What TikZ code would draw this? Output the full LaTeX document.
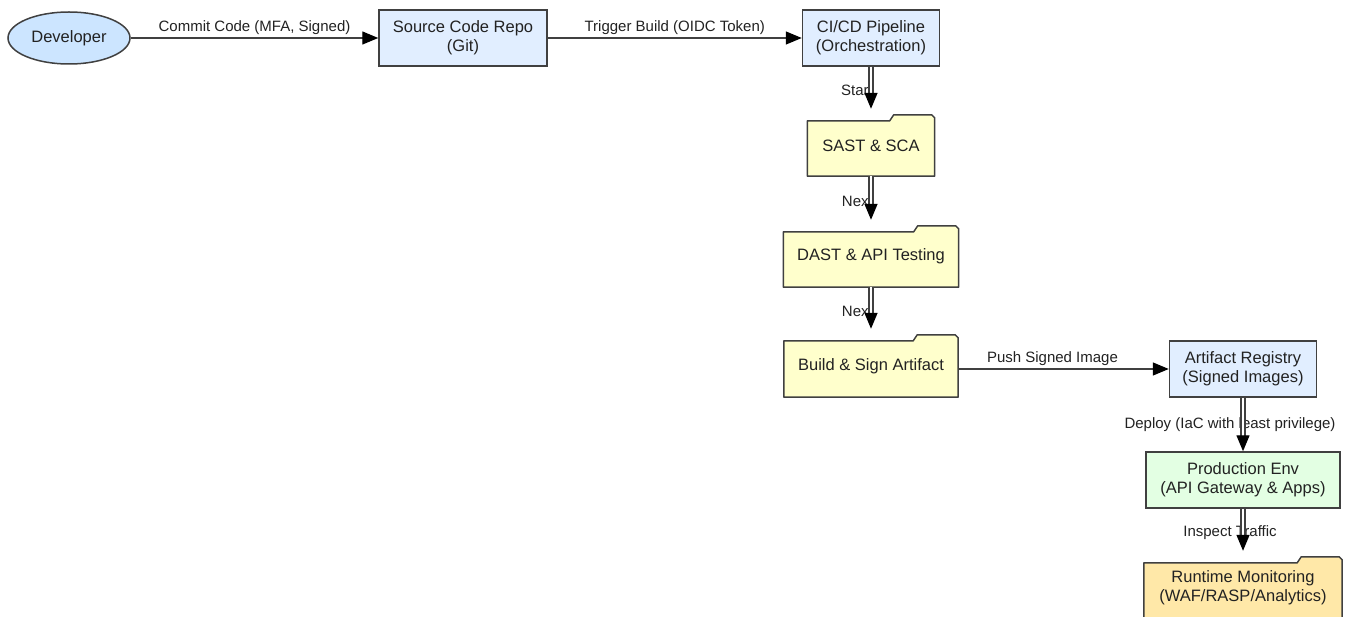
\documentclass[tikz,border=0pt]{standalone}
\usepackage{fontspec}
\setmainfont{Liberation Sans}
\usetikzlibrary{arrows.meta,shapes.geometric,calc,backgrounds}
\definecolor{devblue}{HTML}{CCE5FF}
\definecolor{boxblue}{HTML}{E1EEFF}
\definecolor{yel}{HTML}{FFFFCC}
\definecolor{grn}{HTML}{E3FFE3}
\definecolor{orng}{HTML}{FFE8A8}
\definecolor{bord}{HTML}{404040}
\definecolor{txt}{HTML}{222222}
\newcommand\drawfolder[2]{%
  \draw[draw=bord, line width=1.5pt, fill=#2, line join=round]
  ($(#1.north west)+(0,6)$) -- ($(#1.north east)+(-45,6)$) -- ($(#1.north east)+(-41,0)$)
  -- ($(#1.north east)+(-3,0)$) -- ($(#1.north east)+(0,3)$) -- (#1.south east)
  -- (#1.south west) -- cycle;}
\begin{document}
\begin{tikzpicture}[x=1pt,y=-1pt,
  box/.style={draw=bord, line width=1.5pt, rectangle, align=center, text=txt,
    font=\fontsize{16.5}{19}\selectfont, inner sep=0pt},
  folder/.style={rectangle, align=center, text=txt,
    font=\fontsize{16.5}{19}\selectfont, inner sep=0pt},
  lbl/.style={font=\fontsize{15}{16}\selectfont, text=txt, inner sep=1pt},
  hedge/.style={draw=bord, line width=1.4pt, -{Triangle[length=16pt,width=13pt,color=black]}},
  vedge/.style={draw=bord, line width=1.4pt, double=white, double distance=2.4pt,
    -{Triangle[length=16pt,width=13pt,color=black]}},
]
\useasboundingbox (0,0) rectangle (1346,617);

\node[ellipse, draw=bord, line width=1.5pt, fill=devblue, text=txt,
  font=\fontsize{16.5}{19}\selectfont, minimum width=122pt, minimum height=52pt, inner sep=0pt]
  (dev) at (69,38) {Developer};
\node[box, fill=boxblue, minimum width=168pt, minimum height=56pt] (repo) at (463,38) {Source Code Repo\\(Git)};
\node[box, fill=boxblue, minimum width=137pt, minimum height=56pt] (cicd) at (871,38) {CI/CD Pipeline\\(Orchestration)};
\node[folder, minimum width=127pt, minimum height=61pt] (sast) at (871,145.5) {SAST \& SCA};
\node[folder, minimum width=175pt, minimum height=61pt] (dast) at (871,256.5) {DAST \& API Testing};
\node[folder, minimum width=174pt, minimum height=62pt] (build) at (871,366) {Build \& Sign Artifact};
\node[box, fill=boxblue, minimum width=147pt, minimum height=56pt] (reg) at (1243,369) {Artifact Registry\\(Signed Images)};
\node[box, fill=grn, minimum width=194pt, minimum height=56pt] (prod) at (1243,480) {Production Env\\(API Gateway \& Apps)};
\node[folder, minimum width=198pt, minimum height=62pt] (rt) at (1243,588) {Runtime Monitoring\\(WAF/RASP/Analytics)};

\begin{scope}[on background layer]
  \fill[white] (0,0) rectangle (1346,617);
  \drawfolder{sast}{yel}
  \drawfolder{dast}{yel}
  \drawfolder{build}{yel}
  \drawfolder{rt}{orng}
\end{scope}

\draw[hedge] (dev) -- (repo) node[lbl, midway, yshift=10pt] {Commit Code (MFA, Signed)};
\draw[hedge] (repo) -- (cicd) node[lbl, midway, yshift=10pt] {Trigger Build (OIDC Token)};
\draw[hedge] (build.east |- reg) -- (reg) node[lbl, midway, xshift=-11pt, yshift=10pt] {Push Signed Image};

\path (cicd) -- (sast) node[lbl, midway, anchor=east, xshift=3pt] {Start};
\draw[vedge, shorten >=6pt] (cicd) -- (sast);
\path (sast) -- (dast) node[lbl, midway, anchor=east, xshift=3pt] {Next};
\draw[vedge, shorten >=6pt] (sast) -- (dast);
\path (dast) -- (build) node[lbl, midway, anchor=east, xshift=3pt] {Next};
\draw[vedge, shorten >=6pt] (dast) -- (build);
\path (reg) -- (prod) node[lbl, midway, xshift=-13pt] {Deploy (IaC with least privilege)};
\draw[vedge] (reg) -- (prod);
\path (prod) -- (rt) node[lbl, midway, xshift=-13pt] {Inspect Traffic};
\draw[vedge, shorten >=6pt] (prod) -- (rt);
\end{tikzpicture}
\end{document}
